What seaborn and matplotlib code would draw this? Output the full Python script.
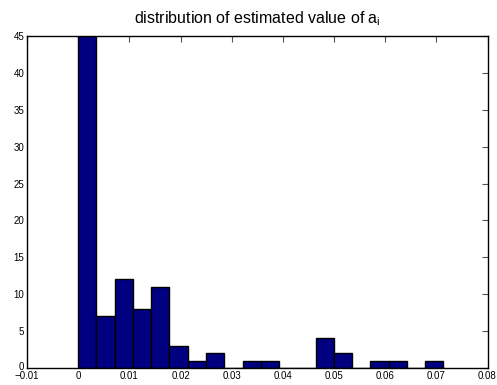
import numpy as np
import pandas as pd
import seaborn as sns
import matplotlib
matplotlib.use("Agg")
import matplotlib.pyplot as plt
from matplotlib.transforms import ScaledTranslation

# histogram data (20 bins from 0 to ~0.0714)
bin_lo = 0.0
bin_hi = 0.0714
n_bins = 20
counts = [45, 7, 12, 8, 11, 3, 1, 2, 0, 1, 1, 0, 0, 4, 2, 0, 1, 1, 0, 1]
x_ticks = [-0.01, 0, 0.01, 0.02, 0.03, 0.04, 0.05, 0.06, 0.07, 0.08]
x_tick_labels = ["\u22120.01", "0", "0.01", "0.02", "0.03", "0.04", "0.05", "0.06", "0.07", "0.08"]
y_ticks = [0, 5, 10, 15, 20, 25, 30, 35, 40, 45]
title = "distribution of estimated value of a$_\\mathregular{i}$"

edges = np.linspace(bin_lo, bin_hi, n_bins + 1)
centers = (edges[:-1] + edges[1:]) / 2
df = pd.DataFrame({"value": centers, "count": counts})

sns.set_style("white")
plt.rcParams['font.family'] = ['Liberation Sans', 'DejaVu Sans']

fig = plt.figure(figsize=(4.97, 3.85), dpi=100)
ax = fig.add_axes([27 / 497, 1 - 368 / 385, 460.5 / 497, 332 / 385])

sns.histplot(data=df, x="value", weights="count", bins=n_bins,
             binrange=(bin_lo, bin_hi), ax=ax,
             color="#000080", edgecolor="black", linewidth=1.0, alpha=1.0)

ax.set_xlim(-0.01, 0.08)
ax.set_ylim(0, 45)
ax.set_xticks(x_ticks)
ax.set_xticklabels(x_tick_labels)
ax.set_yticks(y_ticks)
ax.set_xlabel("")
ax.set_ylabel("")
ax.tick_params(direction="in", length=4, width=0.8, labelsize=7, color="#555555",
               labelcolor="black", top=True, right=True, pad=2)
for s in ax.spines.values():
    s.set_visible(True)
    s.set_color("black")
    s.set_linewidth(1.0)
ax.set_title(title, fontsize=11.5, pad=9, color="black")

# nudge the "0" y label up slightly so it sits above the "-0.01" x label
fig.canvas.draw()
lbl = ax.get_yticklabels()[0]
lbl.set_transform(lbl.get_transform() + ScaledTranslation(0, 2 / 100, fig.dpi_scale_trans))

fig.savefig("out.png", dpi=100)
